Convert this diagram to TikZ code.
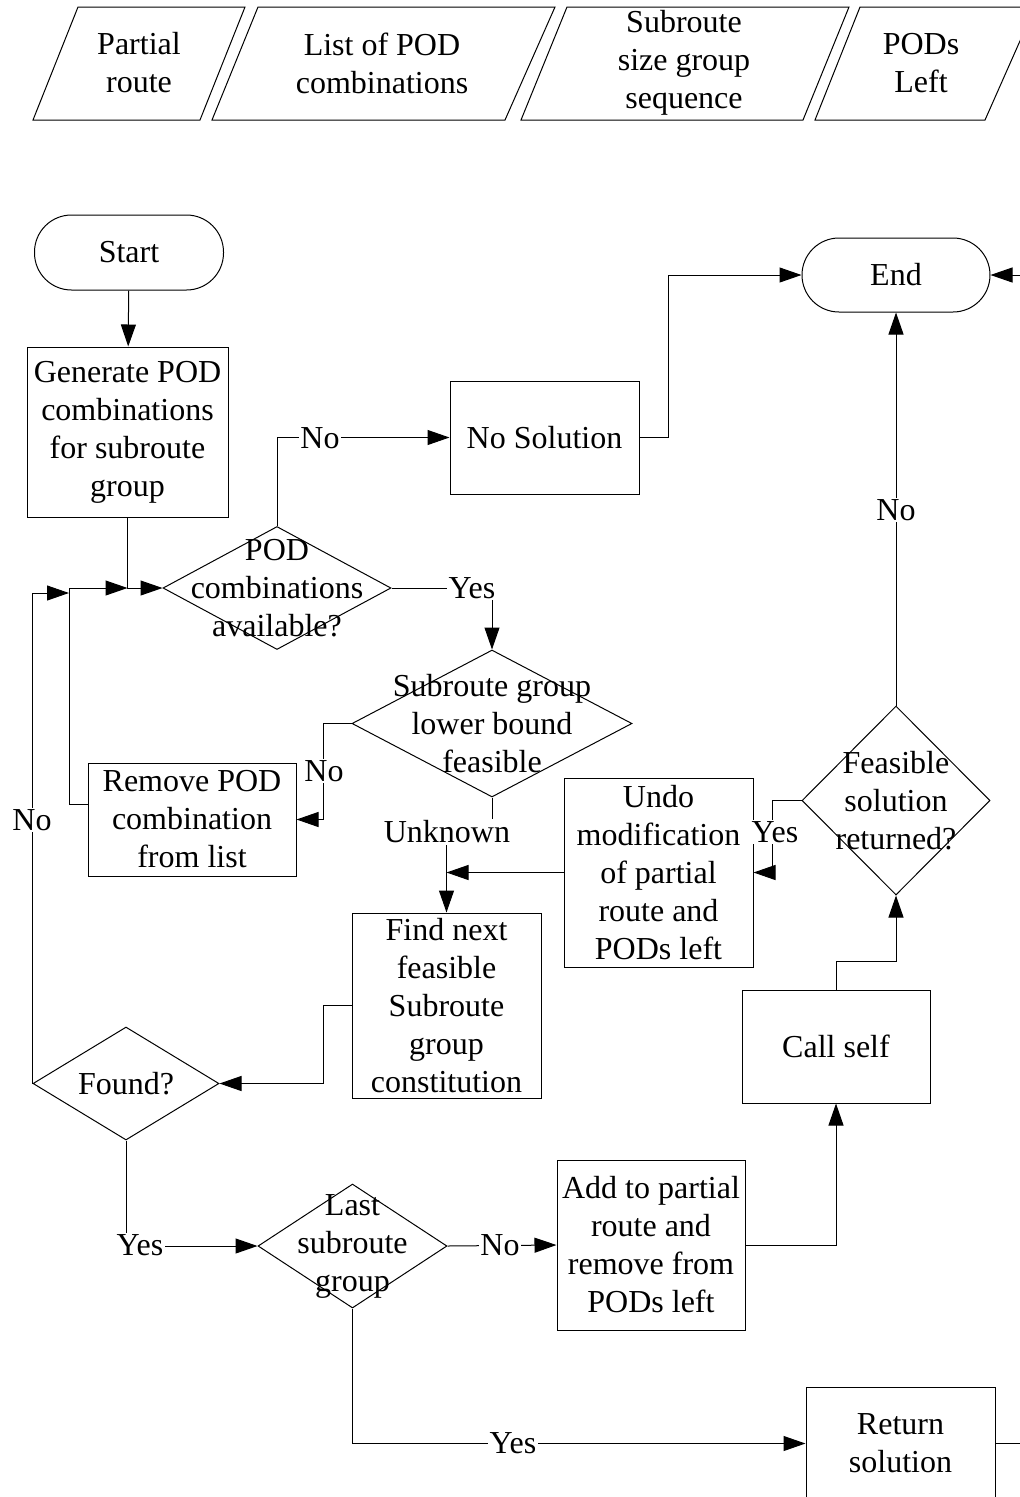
\documentclass[tikz,border=0pt]{standalone}
\usepackage{fontspec}
\setmainfont{Liberation Serif}
\usetikzlibrary{arrows.meta,shapes.geometric}
\begin{document}
\begin{tikzpicture}[x=1pt,y=-1pt,
  font=\fontsize{32}{38}\selectfont,
  line width=1pt,
  sz/.style 2 args={minimum width=#1pt, minimum height=#2pt},
  proc/.style={draw, rectangle, align=center, inner sep=2pt},
  term/.style={draw, rectangle, rounded corners=37pt, inner sep=2pt},
  dec/.style={draw, diamond, inner sep=0pt},
  txt/.style={align=center, inner sep=0pt},
  lbl/.style={fill=white, inner sep=1.5pt},
  arr/.style={-{Triangle[length=22pt,width=15pt]}}
]
\useasboundingbox (0,0) rectangle (1020,1497);
\clip (0,0) rectangle (1020,1497);

% ---- data items (parallelograms) ----
\draw (33,120) -- (78,7) -- (245,7) -- (200,120) -- cycle;
\node[txt] (dRoute) at (139,63) {Partial\\route};
\draw (212,120) -- (258,7) -- (555,7) -- (505,120) -- cycle;
\node[txt] (dList) at (382,63) {List of POD\\combinations};
\draw (521,120) -- (567,7) -- (849,7) -- (803,120) -- cycle;
\node[txt] (dSeq) at (684,63) {Subroute\\size group\\sequence};
\draw (815,120) -- (860,7) -- (1035,7) -- (985,120) -- cycle;
\node[txt] (dLeft) at (921,63) {PODs\\Left};

% ---- flow nodes ----
\node[term, sz={189}{75}] (start) at (129,252.5) {Start};
\node[proc, sz={201}{170}] (gen) at (127.5,432) {Generate POD\\combinations\\for subroute\\group};
\node[dec, sz={228}{123}, label={[txt]center:{POD\\combinations\\available?}}] (avail) at (277,588) {};
\node[proc, sz={189}{113}] (nosol) at (544.5,437.5) {No Solution};
\node[term, sz={188}{74}] (end) at (896,275) {End};
\node[dec, sz={280}{147}, label={[txt]center:{Subroute group\\lower bound\\feasible}}] (bound) at (492,723.5) {};
\node[proc, sz={208}{113}] (remove) at (192,819.5) {Remove POD\\combination\\from list};
\node[proc, sz={189}{185}] (find) at (446.5,1005.5) {Find next\\feasible\\Subroute\\group\\constitution};
\node[proc, sz={189}{189}] (undo) at (658.5,872.5) {Undo\\modification\\of partial\\route and\\PODs left};
\node[dec, sz={188}{189}, label={[txt]center:{Feasible\\solution\\returned?}}] (feas) at (896,800.5) {};
\node[proc, sz={188}{113}] (call) at (836,1046.5) {Call self};
\node[dec, sz={186}{113}, label={[txt]center:{Found?}}] (found) at (126,1083.5) {};
\node[dec, sz={189}{124}, label={[txt]center:{Last\\subroute\\group}}] (last) at (352.5,1246) {};
\node[proc, sz={188}{170}] (add) at (651,1245) {Add to partial\\route and\\remove from\\PODs left};
\node[proc, sz={189}{113}] (ret) at (900.5,1443.5) {Return\\solution};

\coordinate (join) at (gen.south |- avail.west);
\coordinate (inEnd) at (1025,275);
\coordinate (outRet) at (1025,1443.5);

% ---- connectors ----
\draw[arr] (start) -- (gen);
\draw[arr] (gen.south) |- (avail.west);
\draw[arr] ([yshift=15pt]remove.west) -| (69,588) -- (join);
\draw[arr] (found.west) |- (69,593);
\draw[arr] (avail.north) |- (nosol.west);
\draw[arr] (nosol.east) -- ++(29,0) |- (end.west);
\draw[arr] (inEnd) -- (end.east);
\draw[arr] (avail.east) -| (bound.north);
\draw[arr] (bound.west) -- ++(-28,0) |- (remove.east);
\draw[arr] (bound.south) -- ++(0,35) -| (find.north);
\draw[arr] (undo.west) -- (undo.west -| find.north);
\draw[arr] (find.west) -- ++(-28,0) |- (found.east);
\draw[arr] (found.south) |- (last.west);
\draw[arr] (last.east) -- (add.west);
\draw[arr] (add.east) -| (call.south);
\draw[arr] (call.north) -- ++(0,-28) -| (feas.south);
\draw[arr] (feas.north) -- (end.south);
\draw[arr] (feas.west) -- ++(-29,0) |- (undo.east);
\draw[arr] (last.south) |- (ret.west);
\draw (ret.east) -- (outRet);

% ---- connector labels ----
\node[lbl] (lNoSol) at (320,438) {No};
\node[lbl] (lYesAvail) at (472,588) {Yes};
\node[lbl] (lNoBound) at (324,771) {No};
\node[lbl] (lUnknown) at (447,832) {Unknown};
\node[lbl] (lNoFound) at (32,820) {No};
\node[lbl] (lYesFound) at (140,1245) {Yes};
\node[lbl] (lNoLast) at (500,1245) {No};
\node[lbl] (lYesLast) at (513,1443.5) {Yes};
\node[lbl] (lNoFeas) at (896,510) {No};
\node[lbl] (lYesFeas) at (775,832) {Yes};
\end{tikzpicture}
\end{document}
